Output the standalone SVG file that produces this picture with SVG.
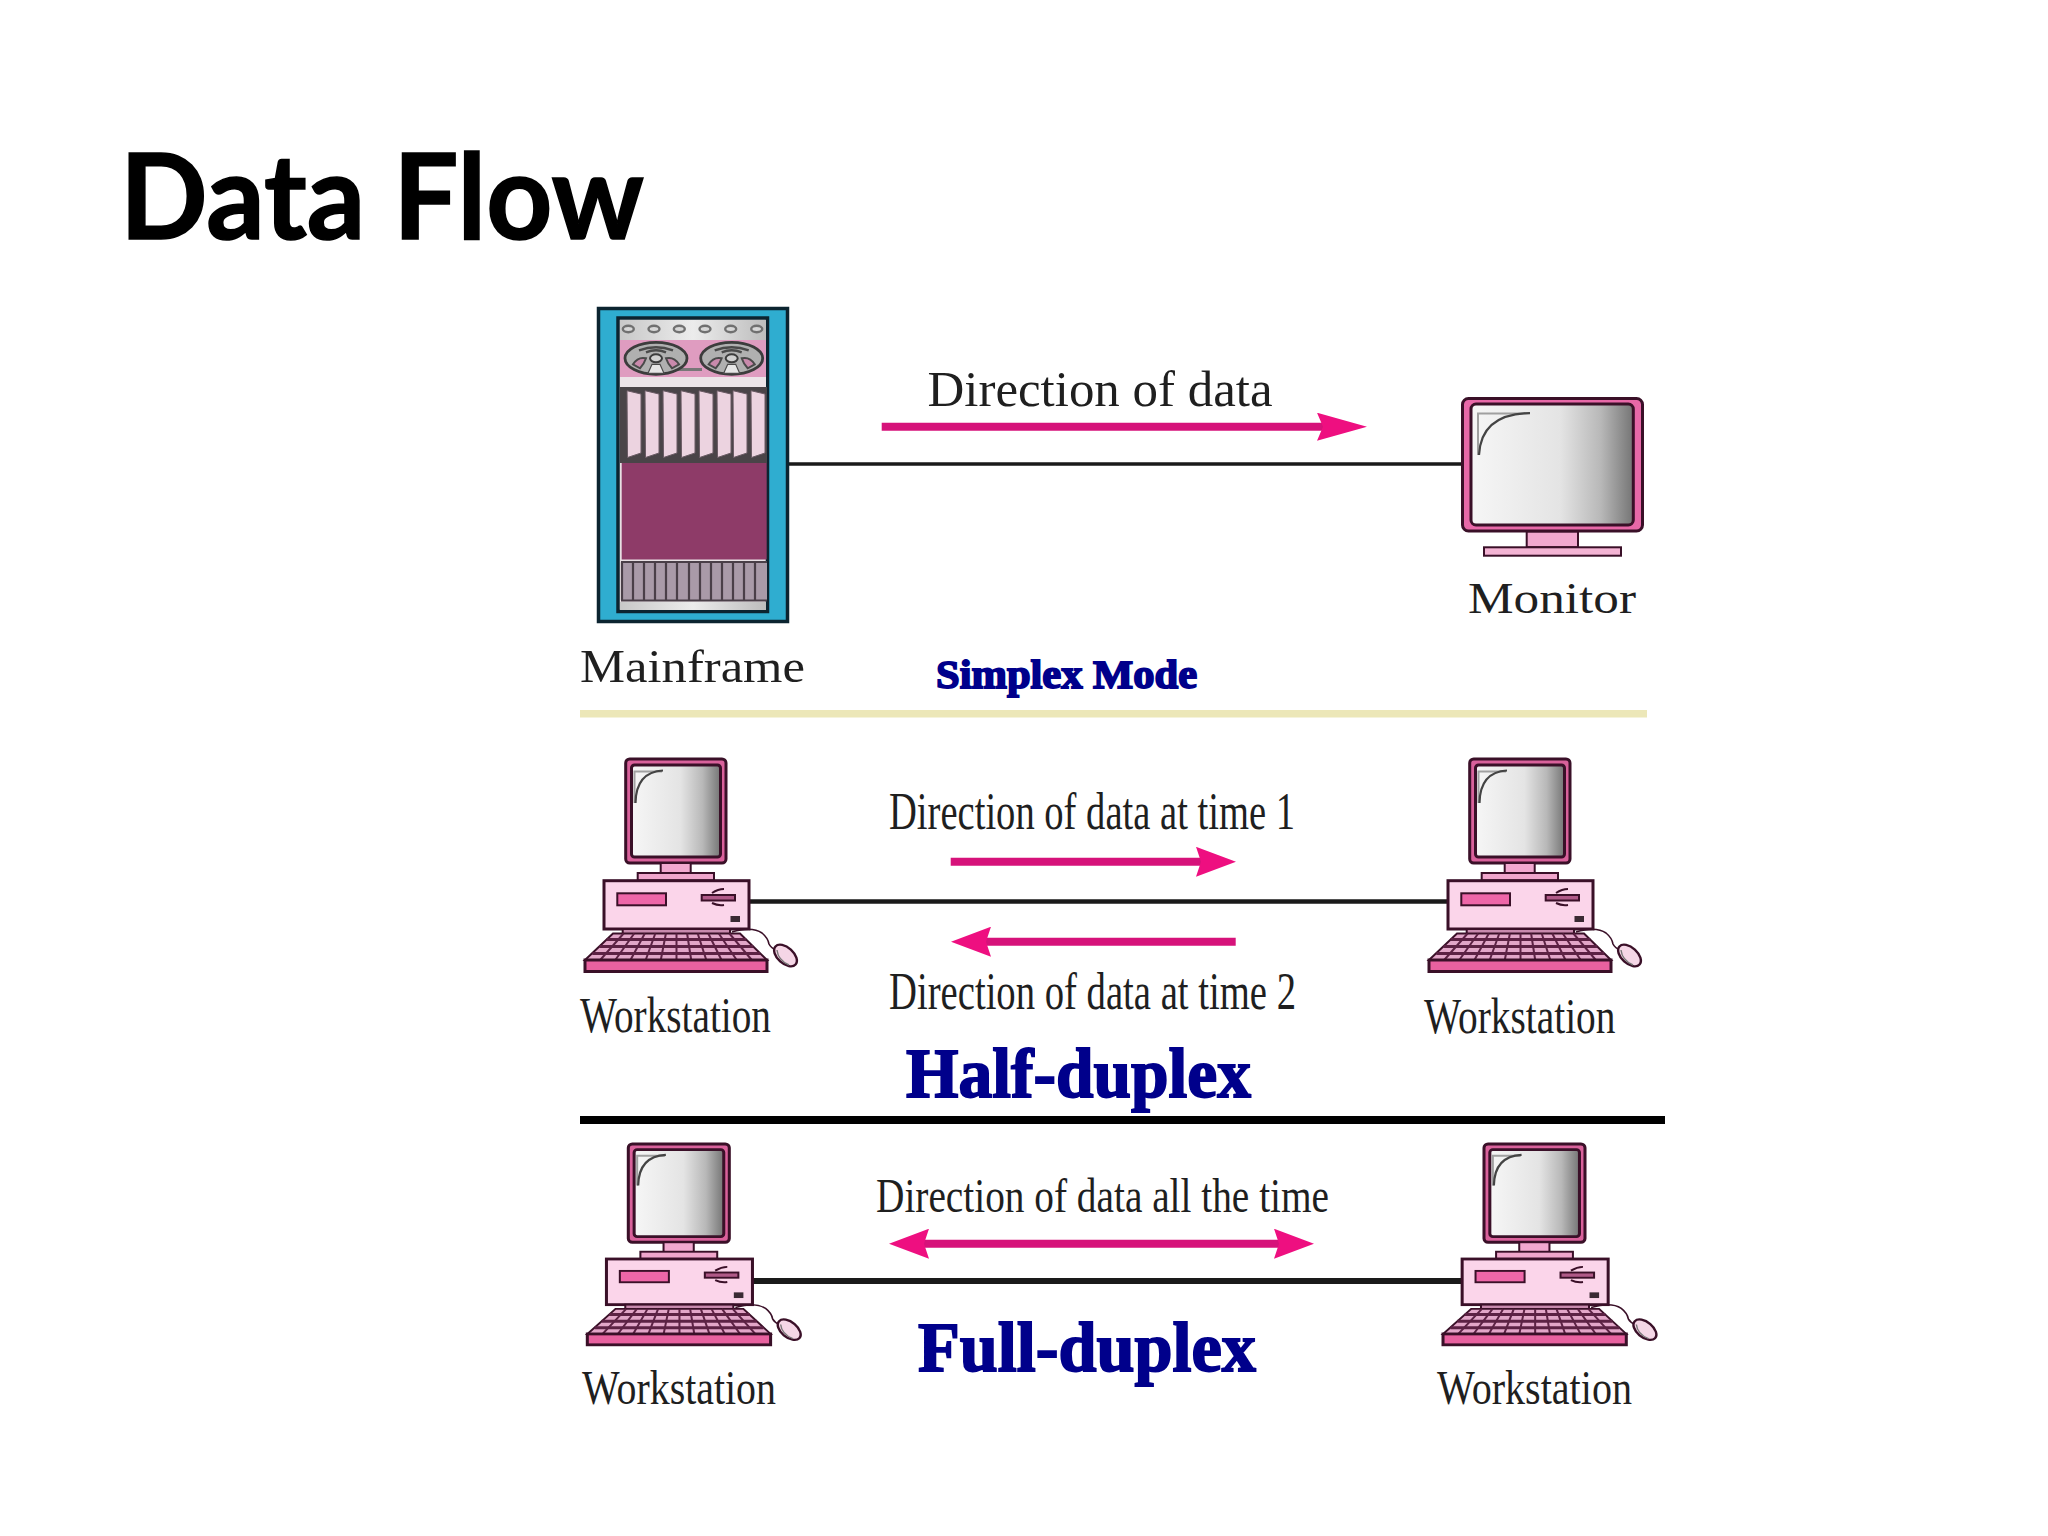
<svg xmlns="http://www.w3.org/2000/svg" xmlns:xlink="http://www.w3.org/1999/xlink" width="2048" height="1536" viewBox="0 0 2048 1536">
<style>
.lbl{font-family:"Liberation Serif","Times New Roman",serif;fill:#1f1f1f}
.head{font-family:"Liberation Serif",serif;font-weight:700;fill:#00008b;stroke:#00008b;stroke-width:1.8}
.wire{stroke:#1a1a1a;fill:none}
.arrow{stroke:#d6127a;stroke-width:8;fill:none}
.ol{stroke:#3a1028;stroke-width:3}
.thin{stroke:#3a1028;stroke-width:2}
.key{stroke:#5c2244;stroke-width:2;fill:none}
.keyr{stroke:#5c2244;stroke-width:3.2;fill:none}
.gl1{stroke:#a0a0a0;stroke-width:2;fill:none}
.gl2{stroke:#444;stroke-width:2.2;fill:none}
.cardb{fill:#ecd3e0;stroke:#6a5a64;stroke-width:1}
.bar{fill:none;stroke:#4a3f48;stroke-width:2.2}
.dot{fill:#d8d8d8;stroke:#707070;stroke-width:2.4}
</style>
<defs>
<linearGradient id="scr" x1="0" x2="1" y1="0" y2="0">
<stop offset="0" stop-color="#f6f6f6"/><stop offset=".55" stop-color="#e4e4e4"/><stop offset=".8" stop-color="#b8b8b8"/><stop offset="1" stop-color="#757575"/>
</linearGradient>
<linearGradient id="steel" x1="0" x2="1" y1="0" y2="0">
<stop offset="0" stop-color="#c8c8c8"/><stop offset=".5" stop-color="#ececec"/><stop offset="1" stop-color="#bdbdbd"/>
</linearGradient>
<marker id="headL" viewBox="0 0 50 28" refX="6" refY="14" markerWidth="50" markerHeight="28" markerUnits="userSpaceOnUse" orient="auto-start-reverse"><path d="M0 0L50 14L0 28L6 14Z" fill="#ee0f80"/></marker>
<marker id="headS" viewBox="0 0 40 30" refX="5" refY="15" markerWidth="40" markerHeight="30" markerUnits="userSpaceOnUse" orient="auto-start-reverse"><path d="M0 0L40 15L0 30L5 15Z" fill="#ee0f80"/></marker>
<g id="reel">
<ellipse cx="0" cy="0" rx="31" ry="16" fill="#b0b0b0" stroke="#3c3c3c" stroke-width="2.8"/>
<path d="M-17-8Q0-14 17-8M-10-6Q0-10 10-6" fill="none" stroke="#4a4a4a" stroke-width="2.4"/>
<path d="M-23 6Q-18-2-10 0Q-12 6-16 10ZM23 6Q18-2 10 0Q12 6 16 10Z" fill="#c98aac" stroke="#4a4a4a" stroke-width="2"/>
<path d="M-8 15L-4 6H4L8 15Z" fill="#e6e6e6" stroke="#4a4a4a" stroke-width="1.2"/>
<ellipse cx="0" cy="0" rx="6" ry="4" fill="#d0d0d0" stroke="#3c3c3c" stroke-width="2"/>
</g>
<g id="ws">
<path d="M732 932Q752 926 762 933Q768 938 769 944Q771 948 776 950" fill="none" stroke="#3a1028" stroke-width="1.6"/>
<rect x="625.7" y="759" width="100.3" height="104" rx="4" fill="#d9619b" class="ol"/>
<rect x="631.5" y="765" width="89" height="92" rx="3" fill="url(#scr)" class="ol"/>
<path class="gl1" d="M634.500 803V771.500H662"/>
<path class="gl2" d="M635.500 803Q636 772 663 770.500"/>
<rect x="660.7" y="863" width="30" height="10.500" fill="#f2a8cf" class="thin"/>
<rect x="637.7" y="873" width="76.300" height="7.500" fill="#f0a6cc" class="thin"/>
<rect x="604" y="880.700" width="145" height="48.300" fill="#fbd5ea" class="ol"/>
<rect x="617.300" y="893.300" width="48.700" height="12" fill="#ee66a8" class="thin"/>
<rect x="701.700" y="895" width="33.300" height="5.500" fill="#b05a88" class="thin"/>
<path d="M712 893Q718 889 724 889M712 903Q718 906 724 905" fill="none" stroke="#3a1028" stroke-width="2"/>
<rect x="730.500" y="916" width="9.500" height="6" fill="#3a2a33"/>
<rect x="622.700" y="929" width="107.300" height="5" fill="#c88aae" class="thin"/>
<path d="M613 933.500H740L767 960H585Z" fill="#e2a6c8" stroke="#3a1028" stroke-width="2"/>
<path class="keyr" d="M606.600 939.500H746.200M599.300 946.500H753.200M592.300 953.500H760"/>
<path class="key" d="M623.600 933.500L600.200 960M634.200 933.500L615.300 960M644.800 933.500L630.500 960M655.300 933.500L645.700 960M665.900 933.500L660.800 960M676.500 933.500V960M687.100 933.500L691.200 960M697.700 933.500L706.300 960M708.300 933.500L721.500 960M718.800 933.500L736.700 960M729.400 933.500L751.800 960"/>
<rect x="585" y="960" width="182" height="11.500" fill="#e8619f" class="ol"/>
<ellipse cx="785.500" cy="955.500" rx="13.500" ry="8" transform="rotate(42 785.500 955.500)" fill="#f5d6e6" stroke="#3a1028" stroke-width="2.400"/>
<path d="M777 950Q778 960 789 965" fill="none" stroke="#777" stroke-width="1.400"/>
</g>
</defs>

<rect width="2048" height="1536" fill="#fff"/>

<text id="title" x="120" y="239" font-family="Lato,'Noto Sans',sans-serif" font-weight="700" font-size="118" fill="#000" stroke="#000" stroke-width="1.600" textLength="524" lengthAdjust="spacingAndGlyphs">Data Flow</text>

<g id="dividers">
<rect x="580" y="710" width="1067" height="7.500" fill="#ece7b8"/>
<rect x="580" y="1116" width="1085" height="8" fill="#000"/>
</g>

<g id="connectors">
<line class="wire" stroke-width="3.500" x1="788" y1="464" x2="1462" y2="464"/>
<line class="wire" stroke-width="4.500" x1="749" y1="901.500" x2="1448" y2="901.500"/>
<line class="wire" stroke-width="6" x1="752" y1="1281" x2="1462" y2="1281"/>
<line class="arrow" x1="881.700" y1="426.700" x2="1323" y2="426.700" marker-end="url(#headL)"/>
<line class="arrow" x1="950.700" y1="861.800" x2="1201" y2="861.800" marker-end="url(#headS)"/>
<line class="arrow" x1="1235.700" y1="941.700" x2="986" y2="941.700" marker-end="url(#headS)"/>
<line class="arrow" stroke-width="7" x1="924" y1="1243.700" x2="1279" y2="1243.700" marker-start="url(#headS)" marker-end="url(#headS)"/>
</g>

<g id="mainframe">
<rect x="598.500" y="308.500" width="189" height="313" fill="#2fadd0" stroke="#0c2430" stroke-width="3.500"/>
<rect x="618" y="318" width="149.500" height="293.500" fill="#e8e0e4" stroke="#0c2430" stroke-width="3.500"/>
<rect x="620" y="320" width="146" height="20" fill="url(#steel)"/>
<ellipse class="dot" cx="628.300" cy="329" rx="5.500" ry="3.200"/><ellipse class="dot" cx="654" cy="329" rx="5.500" ry="3.200"/><ellipse class="dot" cx="679.300" cy="329" rx="5.500" ry="3.200"/><ellipse class="dot" cx="705" cy="329" rx="5.500" ry="3.200"/><ellipse class="dot" cx="730.700" cy="329" rx="5.500" ry="3.200"/><ellipse class="dot" cx="756.700" cy="329" rx="5.500" ry="3.200"/>
<rect x="620" y="340" width="146" height="37" fill="#df9cc0"/>
<rect x="620" y="377" width="146" height="10" fill="#ece4e8"/>
<rect x="678" y="368" width="24" height="3" fill="#777"/>
<use href="#reel" xlink:href="#reel" x="656" y="358.300"/>
<use href="#reel" xlink:href="#reel" x="731.700" y="358.300"/>
<rect x="620" y="387" width="147" height="76" fill="#4a4448"/>
<path class="cardb" d="M627 390.700L641 394V453L627.500 457.500Z"/>
<path class="cardb" d="M645 390.700L659 394V453L645.500 457.500Z"/>
<path class="cardb" d="M663 390.700L677 394V453L663.500 457.500Z"/>
<path class="cardb" d="M681 390.700L695 394V453L681.500 457.500Z"/>
<path class="cardb" d="M699 390.700L713 394V453L699.500 457.500Z"/>
<path class="cardb" d="M717 390.700L731 394V453L717.500 457.500Z"/>
<path class="cardb" d="M733 390.700L747 394V453L733.500 457.500Z"/>
<path class="cardb" d="M751 390.700L765 394V453L751.500 457.500Z"/>
<rect x="621.700" y="463" width="145" height="96.500" fill="#8e3b68"/>
<rect x="621" y="561.700" width="146" height="39" fill="#a99aa8"/>
<path class="bar" d="M622 562V600M633 562V600M644 562V600M655 562V600M666 562V600M677 562V600M689 562V600M700 562V600M711 562V600M722 562V600M733 562V600M744 562V600M755 562V600M621 562H767M621 600.500H767"/>
<rect x="620" y="602" width="146" height="8" fill="url(#steel)"/>
<text class="lbl" x="580" y="681.700" font-size="46" textLength="225" lengthAdjust="spacingAndGlyphs">Mainframe</text>
</g>

<g id="monitor">
<rect x="1462.500" y="398.500" width="180" height="132.500" rx="6" fill="#e868a8" class="ol"/>
<rect x="1471" y="404" width="162.300" height="121" rx="5" fill="url(#scr)" class="ol"/>
<path class="gl1" d="M1478 455V413.500H1530"/>
<path class="gl2" d="M1479 455Q1481 414 1530 413"/>
<rect x="1526.700" y="531.700" width="51.300" height="15.500" fill="#f2a8cf" class="thin"/>
<rect x="1484" y="547.300" width="137" height="8.400" fill="#f4b4d4" class="thin"/>
<text class="lbl" x="1468" y="612.700" font-size="44" textLength="168" lengthAdjust="spacingAndGlyphs">Monitor</text>
</g>

<g id="workstation-1">
<use href="#ws" xlink:href="#ws"/>
<text class="lbl" x="580" y="1031.700" font-size="50" textLength="191" lengthAdjust="spacingAndGlyphs">Workstation</text>
</g>
<g id="workstation-2">
<use href="#ws" xlink:href="#ws" transform="translate(844 0)"/>
<text class="lbl" x="1424" y="1032.700" font-size="50" textLength="191.500" lengthAdjust="spacingAndGlyphs">Workstation</text>
</g>
<g id="workstation-3">
<use href="#ws" xlink:href="#ws" transform="translate(628.300 1144) scale(1.007 .945) translate(-625.700 -759)"/>
<text class="lbl" x="582" y="1404" font-size="48" textLength="194" lengthAdjust="spacingAndGlyphs">Workstation</text>
</g>
<g id="workstation-4">
<use href="#ws" xlink:href="#ws" transform="translate(1484 1144) scale(1.007 .945) translate(-625.700 -759)"/>
<text class="lbl" x="1437" y="1404" font-size="48" textLength="195" lengthAdjust="spacingAndGlyphs">Workstation</text>
</g>

<g id="labels">
<text class="lbl" x="927.500" y="405.500" font-size="50" textLength="345" lengthAdjust="spacingAndGlyphs">Direction of data</text>
<text class="lbl" x="889" y="828.800" font-size="52" textLength="406" lengthAdjust="spacingAndGlyphs">Direction of data at time 1</text>
<text class="lbl" x="889" y="1008.800" font-size="52" textLength="407" lengthAdjust="spacingAndGlyphs">Direction of data at time 2</text>
<text class="lbl" x="876" y="1212.300" font-size="48" textLength="453" lengthAdjust="spacingAndGlyphs">Direction of data all the time</text>
<text class="head" x="936" y="688" font-size="41" textLength="261" lengthAdjust="spacingAndGlyphs">Simplex Mode</text>
<text class="head" x="906" y="1096.700" font-size="70" textLength="345" lengthAdjust="spacingAndGlyphs">Half-duplex</text>
<text class="head" x="918" y="1370.700" font-size="70" textLength="338" lengthAdjust="spacingAndGlyphs">Full-duplex</text>
</g>
</svg>
